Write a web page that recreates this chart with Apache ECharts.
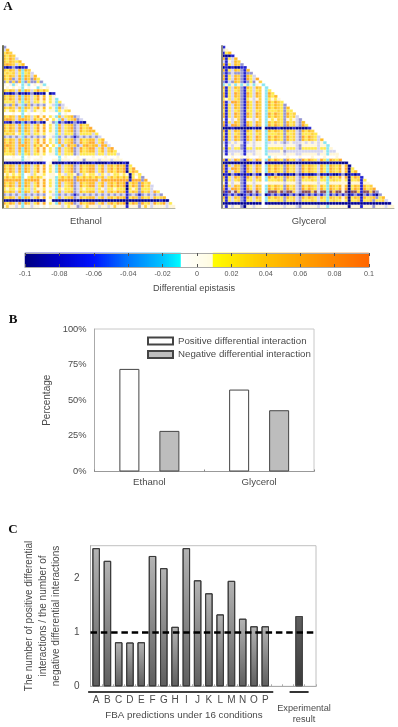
<!DOCTYPE html>
<html><head><meta charset="utf-8">
<script src="https://cdn.jsdelivr.net/npm/echarts@6/dist/echarts.min.js"></script>
<style>html,body{margin:0;padding:0;background:#fff}#c{width:398px;height:727px;filter:blur(0.4px)}</style>
</head><body><div id="c"></div>
<script>
// Heatmap cells, one string per row, one letter per cell
const ethanolRows = [
"v","lo","yog","oyog","oyOgl","oyogyo","oOoglyo","bnbvbnbb","oyoglocog","ygyglycygl","oyoglocoglo","oyOvlOcOgvOy","vyvgvocvgvvyv","w.wcw.cwc.w.wc",
".w.w.wc.w..cw.w","oyoglocoglyOyoy.","nbnbvnbnbvnnbn.nb","oyoglocoglyOwo.yw","oyOglOcOglyOwO.ywc","yyyglycyglyywy.ywcy","vlvgvlcvgvlvlv.wlcvl",
"oyoglocoglyOwo.ywcolw","ywygwycywlywwy.wwcywyg","...w..c.w...w.....c.w...","oyoglocoglyOwo.ywcolygovl","oOOgloOogloyOwO.ywcOlygOvl","bbnvbbsbvbbvbn.wvcbvbnbvbbn",
"oyoglocoglyOwo.ywcolygovloyg","OyOglOcOglyOwO.ywcOlygOvlOygO","oyoglocoglyOwo.ywcolygovloygoo","ygygwycyglyywy.wwcylyyyvlyyyyly","vlvlvlcvlvlvlv.wlcvlvlvbvlvlvlvl",
"oyoglocoglyOwo.ywcolygovloygoolyo","OyOglOcOglyOwO.ywcOlygOvlOygOOlyOl","oOogloOogloyOwo.ywcolOgovloOgoolOolg","OyOglOcOglyOwO.ywcOlygOvlOygOOlyOlgO",
"oyoglocoglyOwo.ywcolygovloygoolyolgoy","yyyglycyglyywy.wwcylyyyvlyyyyylyylyyyl","...w..c.w...w.....c.w...w....w...w...w.","wwwwwwcww.www...wwcwww.wwwvwwwwlwwwlwww.",
"nnnnnnbnnnbnnb.wnnnnbnnnbnnnnbnnnnbnnnnbn","oyoglocoglyOwo.ywcolygovloygoolyolgoyOgoby","OyOglOcOglyOwO.ywcOlygOvlOygOOlyOlgOyOgObyO","oyOglocOglyOwo.ywcOlygOvloygOolyOlgoyOgOnyOg",
"wywywyc.wlywwy.ww.ywlyywvlywyywlywlwyywywnywy","yoyoyoc.yoyoyw.wwcyoyoyvoyoyoyoyolyoyoyoyny.yv","OOOoOOcOoOOOwO.ywcOOoOOvOOOoOOOlOOoOOOOOObOOOvO","oyoglocoglyOwo.ywcolygovloygoolyolgoyOgobyogvoyg",
"OyOglOcOglyOwO.ywcOlygOvlOygOOlyOlgOyOgOnyOgvOygl","ywyywycyylywwy.wwcywyyyvlywyyylywlyywyyynywyvyyyl.","oyoglocoglyOwo.ywcolygovloygoolyolgoyOgobyogvoyglOy","vlvlvlcvlvlvlv.wlcvlvlvbvlvlvlvlvlvlvlvlbvlvbvlvlvlv",
"oyoglocoglyOwo.ywcolygovloygoolyolgoyOgobyogvoygloygo","nnnnnnnnnnnnnn.wnnnnnnnnnnnnnnnnnnnnnnnnnnnnnnnnnnnbnn","OyOglOcOglyOwO.ywcOlygOvlOygOOlyOlgOyOgOnyOgvOyglOygOly","wgwwlwcwwlww.w.wwwwlwywwvlwgwwwlwwlwgwwwbwwwvwgwlwwwwlww"
];
const glycerolRows = [
"b","lw","byo","nnnb","obylo","lbwlog","obylogv","nbnbnnbb","obylogvbo","vbvlvvvbvv","obylogvboyl","obylOgvbOylO","vblvogvbvyv.g","cwcwcwcwcwcw.c",
"obylogvboylog.c","ybylygvbyylyg.cy","obylOgvbOylOg.cOy","obylogvboylog.coyo","ywylygvbywlwg.cywyw","OblOOgvbOylOg.cOyOgy","obylogvboylog.coyogyv",
"obylogvboylog.coyogyvo","ybylygvbyylyg.cyyygyvyy","obylOgvbOylOg.cOyOgyvOyg","obylogvboylog.coyogyvoygl","wbwlwgvbwwlwg.cwywgyvwywlv","obylogvboylog.coyogyvoyglvo",
"OblOOgvbOylOg.cOyOgyvOyglvOy","nnnbnnnnnnbnn.nnnnbnnnnbnnnnb","obylogvboylog.coyogyvoyglvoyog","ybylygvbyylyg.cyyygyvyyglvyyygy","obylOgvbOylOg.cOyOgyvOyglvOyOgyl",
"obylogvboylog.coyogyvoyglvoyogylo","lblwlwlblwlww.clwlwlvlwlllwlwlwlwc","wbwlwwvbwwlww.cwwwwwlwwwlvwwwwwlwwc","ybylyyvbyylyy.cyyyyylyyylvyyyyylyycw","lblllllblllww.cllllwvllllllllllllwcll",
"wbwlwwlbwwlww.cwwwwwlwwwllwwwwwlwwcwww","...w..w.w...w..c.w...w...w...w...w...w.","obylOgvbOylOg.cOyOgyvOyglvOyOgylOycOgyO","nnnnnnnnnnbnn.nnnnnnnnnnnnnnnnnnnnnnnnnnn",
"obylogvboylog.coyogyvoyglvoyogyloycogyowon","OblOOgvbOylOg.cOyOgyvOyglvOyOgylOycOgyOwOny","obylogvboylog.coyogyvoyglvoyogyloycogyowonyo","nbnvbnbnbnvbn.nbnvnbnnbnvbnbnnbvnbnbnnbvnnbnb",
"obylOgvbOylOg.cOyOgyvOyglvOyOgylOycOgyOwOnyOgb","ybylygvbyylyg.cyyygyvyyglvyyygylyycygyywynyygby","wbwlwwvbwwlww..wwwwwlwwwlvwwwwwlwwcwwwwwwnwwwbww","obylogvboylog.coyogyvoyglvoyogyloycogyowonyogboyg",
"OblOOgvbOylOg.cOyOgyvOyglvOyOgylOycOgyOwOnyOgbOygO","rbrlrgvbrrlrg.crrrgrvrrglvrrrgrlrrcrgrrwrnrrgbrrgrv","nbvbvbnbvbvbv.nbvbvbnbvbvnbvbvbvbvcbvbvbvnbvbnvbvbnv",
"obylogvboylog.coyogyvoyglvoyogyloycogyowonyogboygovyo","ybylygvbyylyg.cyyygyvyyglvyyygylyycygyywynyygbyygvyygl","nnnnnnnnnnnnn.nnnnnnnnnnnnnnnnnnnnnnnnnnnnnnnnnnnnnnnnn","wbwlwwvnwwlww..wwwwwlwwwlvwwwwwlwwcwwwwwwnwwwbwwwvwwwlww"
];
const cellColors = {'.':'#ffffff',w:'#fff6d6',y:'#ffea4d',g:'#ffd13f',o:'#ffbc22',O:'#ffa92a',c:'#86e6f2',s:'#5cb6e6',l:'#d4d4f0',v:'#9494d2',b:'#2222d0',n:'#000092',r:'#8a4a50'};

const groupNames = ['Ethanol','Glycerol'];
const positivePct = [72, 57.5];
const negativePct = [28.5, 43];

const fbaLabels = ['A','B','C','D','E','F','G','H','I','J','K','L','M','N','O','P','','','',''];
const fbaValues = [2.555,2.32,0.815,0.81,0.815,2.41,2.185,1.10,2.555,1.96,1.72,1.33,1.95,1.25,1.11,1.11,null,null,null,null];
const experimentValues = [null,null,null,null,null,null,null,null,null,null,null,null,null,null,null,null,null,null,1.30,null];

const colorbarStops = [[-0.1,[0,0,130]],[-0.08,[0,0,200]],[-0.06,[0,20,255]],[-0.04,[0,120,255]],[-0.02,[0,195,255]],[-0.0091,[0,255,255]],[-0.009,[255,255,255]],[0.009,[255,252,225]],[0.0091,[255,255,0]],[0.04,[255,195,0]],[0.1,[255,102,0]]];
function scaleColor(v){
  for(let i=1;i<colorbarStops.length;i++){
    const [a,ca]=colorbarStops[i-1],[b,cb]=colorbarStops[i];
    if(v<=b){const t=(v-a)/(b-a);return 'rgb('+ca.map((c,k)=>Math.round(c+(cb[k]-c)*t)).join(',')+')';}
  }
  return 'rgb(255,102,0)';
}
const barCells=[];for(let i=0;i<172;i++)barCells.push(-0.1+(i+0.5)*0.2/172);

function cells(rows){
  const out=[];
  rows.forEach((r,y)=>{[...r.slice(0,y+1)].forEach((ch,x)=>{out.push({value:[x,y,1],itemStyle:{color:cellColors[ch],borderColor:'rgba(255,255,255,0.4)',borderWidth:0.6}});});});
  return out;
}
const idx=n=>Array.from({length:n},(_,i)=>i);
const N=ethanolRows.length;
const textCol='#4a4a4a';
const F='"Liberation Sans",Arial,sans-serif';
const hx=(g)=>({gridIndex:g,type:'category',data:idx(N),axisLabel:{show:false},axisTick:{show:false},splitLine:{show:false},axisLine:{show:true,lineStyle:{color:'#b5b5a5',width:1}},z:5});
const hy=(g,col)=>({gridIndex:g,type:'category',inverse:true,data:idx(N),axisLabel:{show:false},axisTick:{show:false},splitLine:{show:false},axisLine:{show:true,onZero:false,lineStyle:{color:col,width:2}},z:5});

const chart=echarts.init(document.getElementById('c'),null,{renderer:'canvas'});
const grey=(t,x,y,size)=>({type:'text',x,y,style:{text:t,fill:textCol,font:size+'px '+F,textAlign:'center',textVerticalAlign:'middle'}});
const panel=(t,x,y)=>({type:'text',x,y,style:{text:t,fill:'#111',font:'bold 13px "Liberation Serif",serif',textAlign:'center',textVerticalAlign:'middle'}});

chart.setOption({
  animation:false,
  backgroundColor:'#fff',
  textStyle:{fontFamily:F},
  grid:[
    {left:3,top:46,width:172,height:162},
    {left:222,top:46,width:172,height:162},
    {left:25,top:253,width:344,height:14},
    {left:94.5,top:329,width:219.5,height:142.5,show:true,borderColor:'#c8c8c8',borderWidth:1},
    {left:90.5,top:545.7,width:225.5,height:140.6,show:true,borderColor:'#c0c0c0',borderWidth:1}
  ],
  xAxis:[
    hx(0),hx(1),
    {gridIndex:2,type:'category',data:idx(172),axisLabel:{show:false},axisTick:{show:false},axisLine:{show:false}},
    {gridIndex:2,type:'value',position:'bottom',min:-0.1,max:0.1,interval:0.02,z:5,
      axisLine:{show:true,lineStyle:{color:'#aaaaaa'}},axisTick:{show:true,inside:true,length:3,lineStyle:{color:'#555'}},
      axisLabel:{color:'#555',fontSize:7.2,margin:4,showMinLabel:true,showMaxLabel:true},splitLine:{show:false}},
    {gridIndex:2,type:'value',position:'top',min:-0.1,max:0.1,interval:0.02,z:5,
      axisLine:{show:true,lineStyle:{color:'#aaaaaa'}},axisTick:{show:true,inside:true,length:3,lineStyle:{color:'#555'}},
      axisLabel:{show:false},splitLine:{show:false}},
    {gridIndex:3,type:'category',data:groupNames,axisTick:{show:true,inside:true,length:2,lineStyle:{color:'#888'}},
      axisLine:{lineStyle:{color:'#999'}},axisLabel:{color:textCol,fontSize:9.6,margin:6}},
    {gridIndex:4,type:'category',data:fbaLabels,axisTick:{show:true,inside:true,length:2,lineStyle:{color:'#aaa'}},
      axisLine:{lineStyle:{color:'#aaa'}},axisLabel:{color:textCol,fontSize:10,margin:9,interval:0}}
  ],
  yAxis:[
    hy(0,'#6e6e55'),hy(1,'#8a8a8a'),
    {gridIndex:2,type:'category',data:[0],axisLabel:{show:false},axisTick:{show:false},axisLine:{show:false}},
    {gridIndex:3,type:'value',min:0,max:100,interval:25,
      axisLine:{show:true,lineStyle:{color:'#aaa'}},axisTick:{show:false},splitLine:{show:false},
      axisLabel:{color:textCol,fontSize:9.3,margin:8,formatter:'{value}%'},
      name:'Percentage',nameLocation:'middle',nameRotate:90,nameGap:33,nameTextStyle:{color:textCol,fontSize:10}},
    {gridIndex:4,type:'value',min:0,max:2.6,interval:1,
      axisLine:{show:true,lineStyle:{color:'#aaa'}},axisTick:{show:false},splitLine:{show:false},
      axisLabel:{color:textCol,fontSize:10,margin:11,formatter:v=>Number.isInteger(v)?String(v):''},
      name:'The number of positive differential\ninteractions / the number of\nnegative differential interactions',
      nameLocation:'middle',nameRotate:90,nameGap:27,
      nameTextStyle:{color:textCol,fontSize:10,lineHeight:13.5,align:'center'}}
  ],
  legend:{left:147,top:336,orient:'vertical',icon:'rect',itemWidth:25,itemHeight:7,itemGap:3.5,padding:0,
    data:['Positive differential interaction','Negative differential interaction'],
    textStyle:{color:textCol,fontSize:9.7},selectedMode:false},
  series:[
    {type:'heatmap',xAxisIndex:0,yAxisIndex:0,data:cells(ethanolRows),silent:true},
    {type:'heatmap',xAxisIndex:1,yAxisIndex:1,data:cells(glycerolRows),silent:true},
    {type:'heatmap',xAxisIndex:2,yAxisIndex:2,silent:true,
      data:barCells.map((v,i)=>({value:[i,0,v],itemStyle:{color:scaleColor(v)}}))},
    {name:'Positive differential interaction',type:'bar',xAxisIndex:5,yAxisIndex:3,data:positivePct,barWidth:20,barGap:'100%',
      itemStyle:{color:'#ffffff',borderColor:'#444',borderWidth:1}},
    {name:'Negative differential interaction',type:'bar',xAxisIndex:5,yAxisIndex:3,data:negativePct,barWidth:20,barGap:'100%',
      itemStyle:{color:'#bdbdbd',borderColor:'#444',borderWidth:1}},
    {type:'bar',xAxisIndex:6,yAxisIndex:4,data:fbaValues,barWidth:7.5,barGap:'-100%',
      itemStyle:{borderColor:'#3a3a3a',borderWidth:1,color:new echarts.graphic.LinearGradient(0,0,0,1,[{offset:0,color:'#b4b4b4'},{offset:1,color:'#5e5e5e'}])},
      markLine:{silent:true,symbol:'none',z:10,label:{show:false},lineStyle:{color:'#000',width:2.5,type:[6.5,3.8]},data:[{yAxis:1}]}},
    {type:'bar',xAxisIndex:6,yAxisIndex:4,data:experimentValues,barWidth:7.5,barGap:'-100%',
      itemStyle:{borderColor:'#444',borderWidth:1,color:new echarts.graphic.LinearGradient(0,0,0,1,[{offset:0,color:'#606060'},{offset:1,color:'#3a3a3a'}])}}
  ]
});
const px=i=>chart.convertToPixel({xAxisIndex:6},i);
const underY=692;
const under=(a,b)=>({type:'line',shape:{x1:a,y1:underY,x2:b,y2:underY},style:{stroke:'#000',lineWidth:1.6}});
chart.setOption({graphic:{elements:[
  panel('A',8,7),panel('B',13,320),panel('C',13,530),
  grey('Ethanol',86,221,9.4),grey('Glycerol',309,221,9.4),
  grey('Differential epistasis',194,288,9.2),
  grey('FBA predictions under 16 conditions',184,715,9.8),
  grey('Experimental',304,708,9.2),grey('result',304,719,9.2),
  under(px(0)-8,px(15)+8),under(px(18)-9.5,px(18)+9.5)
]}});
</script></body></html>
